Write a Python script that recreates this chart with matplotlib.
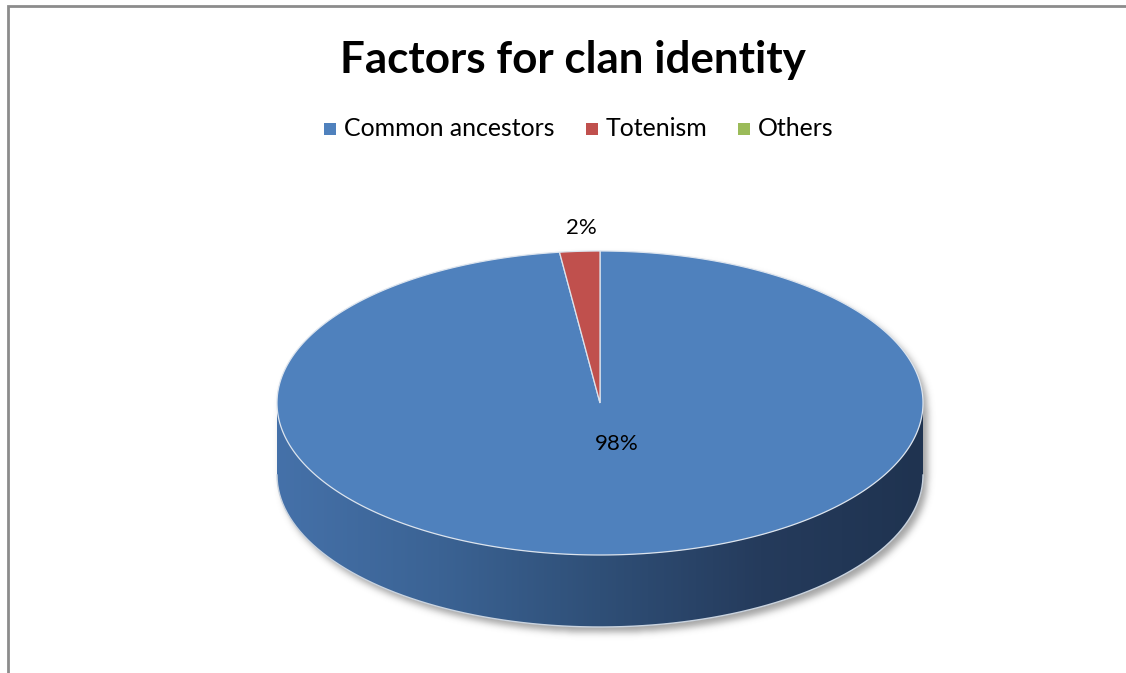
import numpy as np
import matplotlib
matplotlib.use("Agg")
import matplotlib.pyplot as plt
from matplotlib.patches import Polygon, Rectangle
from matplotlib.colors import LinearSegmentedColormap

# Data
categories = ["Common ancestors", "Totenism", "Others"]
shares = [98, 2, 0]
colors = ["#4f81bd", "#c0504d", "#9bbb59"]
title = "Factors for clan identity"

W, H = 1126, 673
fig = plt.figure(figsize=(W / 100, H / 100), dpi=100)
ax = fig.add_axes([0, 0, 1, 1])
ax.set_xlim(0, W)
ax.set_ylim(H, 0)
ax.axis("off")

FONT = "Lato"

# chart frame
ax.plot([8, 8, W], [H, 6, 6], color="#8c8c8c", lw=2, solid_joinstyle="miter")

# pie geometry (pixel space)
cx, cy, rx, ry, depth = 600, 403, 323, 152, 72


def rim(t0, t1, n=200, dy=0.0):
    t = np.radians(np.linspace(t0, t1, n))
    return np.column_stack([cx + rx * np.cos(t), cy - ry * np.sin(t) + dy])


# silhouette shadow (blurred)
yy, xx = np.mgrid[0:H, 0:W]
sx, sy = 4, 5
inside_top = ((xx - cx - sx) / rx) ** 2 + ((yy - cy - sy) / ry) ** 2 <= 1
inside_bot = ((xx - cx - sx) / rx) ** 2 + ((yy - cy - sy - depth) / ry) ** 2 <= 1
inside_mid = (np.abs(xx - cx - sx) <= rx) & (yy >= cy + sy) & (yy <= cy + sy + depth)
mask = (inside_top | inside_bot | inside_mid).astype(float)
sig = 3.5
k = np.arange(-12, 13)
g = np.exp(-k ** 2 / (2 * sig ** 2))
g /= g.sum()
blur = np.apply_along_axis(lambda r: np.convolve(r, g, mode="same"), 1, mask)
blur = np.apply_along_axis(lambda c: np.convolve(c, g, mode="same"), 0, blur)
shadow = np.zeros((H, W, 4))
shadow[..., :3] = 0.35
shadow[..., 3] = blur * 0.55
ax.imshow(shadow, extent=(0, W, H, 0), zorder=1, interpolation="bilinear")

# slices, clockwise from 12 o'clock
total = sum(shares)
bounds = []
start = 90.0
for v in shares:
    end = start - 360.0 * v / total
    bounds.append((start, end))
    start = end

# side walls (front half: angles -180..0)
side_cmap = LinearSegmentedColormap.from_list(
    "side",
    [(0.0, "#4571a9"), (0.25, "#3b6394"), (0.5, "#2f4f77"),
     (0.75, "#253b5c"), (1.0, "#1f3350")])
grad = np.linspace(0, 1, 256)[None, :]
for (a0, a1), col, v in zip(bounds, colors, shares):
    if v == 0:
        continue
    lo, hi = min(a0, a1), max(a0, a1)
    for off in (0, -360, 360):
        l, h = max(lo + off, -180), min(hi + off, 0)
        if h > l:
            top = rim(l, h)
            bot = rim(h, l, dy=depth)
            poly = Polygon(np.vstack([top, bot]), closed=True,
                           facecolor="none", edgecolor="none", zorder=2)
            ax.add_patch(poly)
            im = ax.imshow(grad, cmap=side_cmap, aspect="auto",
                           extent=(cx - rx, cx + rx, cy + ry + depth, cy), zorder=2)
            im.set_clip_path(poly)

# bottom rim highlight
ax.plot(*rim(-180, 0, dy=depth).T, color="#c9d3df", lw=1.0, zorder=3)

# top faces
for (a0, a1), col, v in zip(bounds, colors, shares):
    if v == 0:
        continue
    arc = rim(a0, a1, n=max(int(abs(a1 - a0)) * 2, 20))
    pts = np.vstack([[cx, cy], arc])
    ax.add_patch(Polygon(pts, closed=True, facecolor=col,
                         edgecolor="#dce4ee", lw=0.9, zorder=4))

# value labels
ax.text(581, 228, f"{shares[1]}%", ha="center", va="center",
        fontsize=16, family=FONT, zorder=5)
ax.text(617, 444, f"{shares[0]}%", ha="center", va="center",
        fontsize=16, family=FONT, zorder=5)

# title
ax.text(573, 60, title, ha="center", va="center", fontsize=31.7,
        fontweight="bold", family=FONT)

# legend
leg_y = 129
x = 324
for name, col in zip(categories, colors):
    ax.add_patch(Rectangle((x, leg_y - 6), 12, 12, facecolor=col,
                           edgecolor="none"))
    t = ax.text(x + 20, leg_y, name, ha="left", va="center",
                fontsize=17.9, family=FONT)
    fig.canvas.draw()
    bb = t.get_window_extent()
    x = bb.x1 + 31

fig.savefig("out.png", dpi=100)
